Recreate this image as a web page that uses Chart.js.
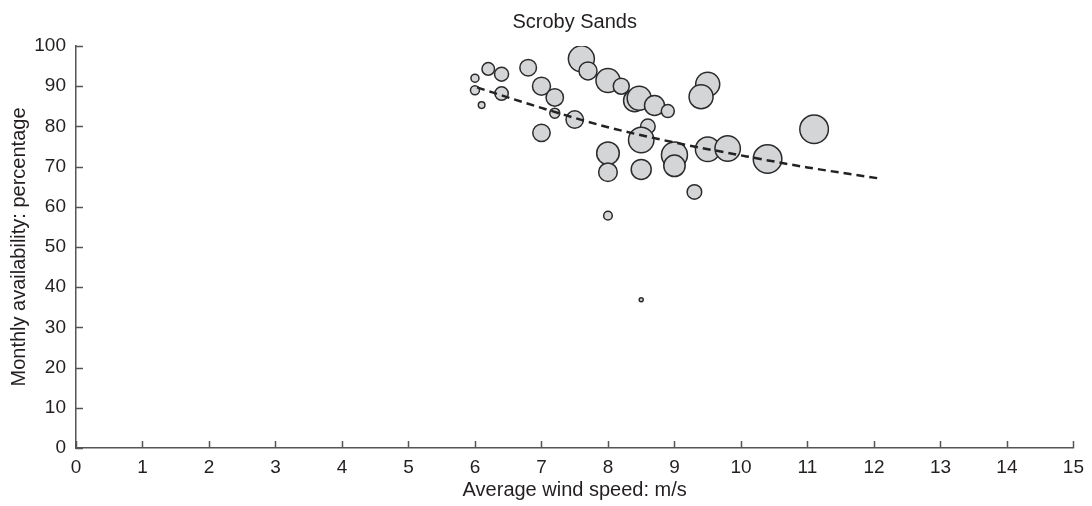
<!DOCTYPE html>
<html>
<head>
<meta charset="utf-8">
<script src="https://cdn.jsdelivr.net/npm/chart.js@4.4.1/dist/chart.umd.min.js"></script>
<style>
    html, body { margin: 0; padding: 0; background: #fff; }
    #wrap { width: 1092px; height: 506px; }
</style>
</head>
<body>
<div id="wrap"><canvas id="chart" width="1092" height="506"></canvas></div>
<script>
// monthly points: wind speed (m/s), availability (%), bubble size
const windSpeed = [6.0, 6.0, 6.1, 6.2, 6.4, 6.4, 6.8, 7.0, 7.2, 7.2, 7.5, 7.0, 7.6, 7.7, 8.0, 8.2,
    8.4, 8.47, 8.7, 8.9, 8.6, 8.5, 8.0, 8.0, 8.5, 9.0, 9.0, 9.3, 9.5, 9.4, 9.5, 9.8, 10.4, 11.1, 8.0, 8.5];
const availability = [92.0, 89.0, 85.3, 94.3, 93.0, 88.2, 94.6, 90.0, 87.2, 83.3, 81.7, 78.4, 96.8, 93.8, 91.4, 90.0,
    86.4, 87.0, 85.2, 83.8, 80.0, 76.6, 73.3, 68.6, 69.3, 72.9, 70.2, 63.7, 90.5, 87.4, 74.3, 74.5, 71.9, 79.3, 57.8, 36.9];
const bubbleSize = [4, 4.5, 3.3, 6.3, 7, 6.7, 8.3, 9, 8.7, 5, 8.7, 8.7, 13, 9, 12, 8,
    11, 12, 10, 6.5, 7.3, 12.7, 11.3, 9.3, 10, 13, 10.7, 7.3, 12, 12, 12.3, 12.7, 14.3, 14.3, 4.3, 2];

// trend line
const trendSpeed = [6.03, 7, 8, 9, 10, 11, 12.1];
const trendAvail = [89.7, 84.6, 79.8, 76.0, 72.8, 69.8, 67.0];

const fontFamily = '"Liberation Sans", Arial, Helvetica, sans-serif';
const textColor = '#231f20';
const axisColor = '#555';

const bubbles = windSpeed.map(function (x, i) {
    return { x: x, y: availability[i], r: bubbleSize[i] };
});
const trend = trendSpeed.map(function (x, i) {
    return { x: x, y: trendAvail[i] };
});

// tick marks pointing into the plot
const inwardTicks = {
    id: 'inwardTicks',
    afterDraw: function (chart) {
        const ctx = chart.ctx;
        const xs = chart.scales.x;
        const ys = chart.scales.y;
        const area = chart.chartArea;
        ctx.save();
        ctx.strokeStyle = axisColor;
        ctx.lineWidth = 1.5;
        ctx.beginPath();
        xs.ticks.forEach(function (t) {
            const px = Math.round(xs.getPixelForValue(t.value)) + 0.5;
            ctx.moveTo(px, area.bottom);
            ctx.lineTo(px, area.bottom - 7);
        });
        ys.ticks.forEach(function (t) {
            const py = Math.round(ys.getPixelForValue(t.value)) + 0.5;
            ctx.moveTo(area.left, py);
            ctx.lineTo(area.left + 7, py);
        });
        ctx.stroke();
        ctx.restore();
    }
};

new Chart(document.getElementById('chart'), {
    type: 'bubble',
    data: {
        datasets: [{
            type: 'line',
            data: trend,
            borderColor: '#222',
            borderWidth: 2.5,
            borderDash: [8, 5],
            pointRadius: 0,
            fill: false,
            tension: 0.4,
            cubicInterpolationMode: 'monotone',
            order: 0
        }, {
            data: bubbles,
            backgroundColor: '#d4d5d7',
            borderColor: '#2b2b2b',
            borderWidth: 1.5,
            hoverRadius: 0,
            order: 1
        }]
    },
    plugins: [inwardTicks],
    options: {
        responsive: false,
        animation: false,
        layout: { padding: { left: 0, right: 16, top: 0, bottom: 0 } },
        plugins: {
            legend: { display: false },
            tooltip: { enabled: false },
            title: {
                display: true,
                text: 'Scroby Sands',
                fullSize: false,
                color: textColor,
                font: { family: fontFamily, size: 20, weight: 'normal' },
                padding: { top: 10, bottom: 12 }
            }
        },
        scales: {
            x: {
                type: 'linear',
                min: 0,
                max: 15,
                grid: { display: false, drawTicks: false, tickLength: 0 },
                border: { display: true, color: axisColor, width: 1.5 },
                ticks: {
                    stepSize: 1,
                    padding: 8,
                    color: textColor,
                    font: { family: fontFamily, size: 19 }
                },
                title: {
                    display: true,
                    text: 'Average wind speed: m/s',
                    color: textColor,
                    font: { family: fontFamily, size: 20 },
                    padding: { top: 0, bottom: 4 }
                },
                afterFit: function (scale) { scale.height = 58; }
            },
            y: {
                type: 'linear',
                min: 0,
                max: 100,
                grid: { display: false, drawTicks: false, tickLength: 0 },
                border: { display: true, color: axisColor, width: 1.5 },
                ticks: {
                    stepSize: 10,
                    padding: 10,
                    color: textColor,
                    font: { family: fontFamily, size: 19 }
                },
                title: {
                    display: true,
                    text: 'Monthly availability: percentage',
                    color: textColor,
                    font: { family: fontFamily, size: 20 },
                    padding: { top: 7, bottom: 0 }
                },
                afterFit: function (scale) { scale.width = 76; }
            }
        }
    }
});
</script>
</body>
</html>
